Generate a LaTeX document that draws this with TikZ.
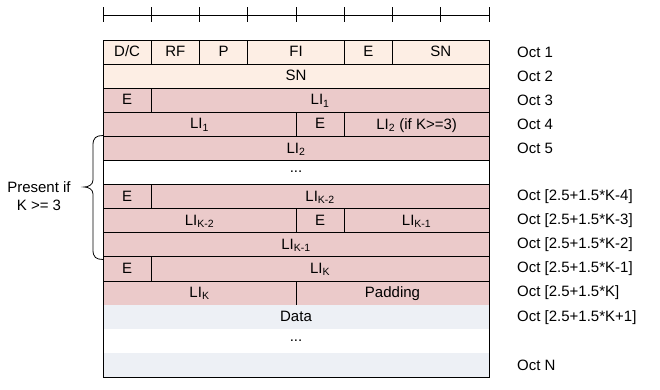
\documentclass[tikz,border=0pt]{standalone}
\usepackage{fontspec}
\setmainfont{Liberation Sans}
\definecolor{peach}{HTML}{FDEEE4}
\definecolor{rose}{HTML}{EBCACA}
\definecolor{pale}{HTML}{EDF0F5}
\newcommand\cellbox[6]{\node[cellbase,#5,minimum width={(#3-#2)*48.25pt},minimum height=24.1pt] (#1) at ({103+(#2+#3)*24.125},{40+(#4+0.5)*24.1}) {#6};}
\newcommand\octlabel[3]{\node[octlbl] (#1) at (517,{40+(#2+0.5)*24.1}) {#3};}
\begin{document}
\begin{tikzpicture}[x=1pt,y=-1pt,
  font=\fontsize{15}{18}\selectfont,
  cellbase/.style={inner sep=0pt,outer sep=0pt,line width=0.9pt,text depth=0.2ex},
  hdr/.style={draw=black,fill=peach},
  li/.style={draw=black,fill=rose},
  blank/.style={draw=black,fill=white},
  dat/.style={fill=pale},
  datw/.style={fill=white},
  octlbl/.style={anchor=west,inner sep=0pt},
  ruler/.style={line width=0.9pt}]
\useasboundingbox (0,0) rectangle (660,390);
% ruler
\coordinate (rl) at (103,15);
\coordinate (rr) at (489,15);
\draw[ruler] (rl) -- (rr);
\foreach \i in {0,...,8}{
  \draw[ruler] ({103+\i*48.25},7.5) -- ({103+\i*48.25},22);
}
% rows
\cellbox{dc}{0}{1}{0}{hdr}{D/C}
\cellbox{rf}{1}{2}{0}{hdr}{RF}
\cellbox{p}{2}{3}{0}{hdr}{P}
\cellbox{fi}{3}{5}{0}{hdr}{FI}
\cellbox{e1}{5}{6}{0}{hdr}{E}
\cellbox{sna}{6}{8}{0}{hdr}{SN}
\cellbox{snb}{0}{8}{1}{hdr}{SN}
\cellbox{e3}{0}{1}{2}{li}{E}
\cellbox{li1a}{1}{8}{2}{li}{LI\textsubscript{1}}
\cellbox{li1b}{0}{4}{3}{li}{LI\textsubscript{1}}
\cellbox{e4}{4}{5}{3}{li}{E}
\cellbox{li2a}{5}{8}{3}{li}{LI\textsubscript{2} (if K>=3)}
\cellbox{li2b}{0}{8}{4}{li}{LI\textsubscript{2}}
\cellbox{dots1}{0}{8}{5}{blank}{...}
\cellbox{e7}{0}{1}{6}{li}{E}
\cellbox{lik2a}{1}{8}{6}{li}{LI\textsubscript{K-2}}
\cellbox{lik2b}{0}{4}{7}{li}{LI\textsubscript{K-2}}
\cellbox{e8}{4}{5}{7}{li}{E}
\cellbox{lik1a}{5}{8}{7}{li}{LI\textsubscript{K-1}}
\cellbox{lik1b}{0}{8}{8}{li}{LI\textsubscript{K-1}}
\cellbox{e10}{0}{1}{9}{li}{E}
\cellbox{lika}{1}{8}{9}{li}{LI\textsubscript{K}}
\cellbox{likb}{0}{4}{10}{li}{LI\textsubscript{K}}
\cellbox{pad}{4}{8}{10}{li}{Padding}
\cellbox{d1}{0}{8}{11}{dat}{Data}
\cellbox{d2}{0}{8}{12}{datw}{...}
\cellbox{d3}{0}{8}{13}{dat}{}
\draw[line width=0.9pt] (d1.north west) -- (d3.south west) -- (d3.south east) -- (d1.north east);
% octet labels
\octlabel{o1}{0}{Oct 1}
\octlabel{o2}{1}{Oct 2}
\octlabel{o3}{2}{Oct 3}
\octlabel{o4}{3}{Oct 4}
\octlabel{o5}{4}{Oct 5}
\octlabel{o7}{6}{Oct [2.5+1.5*K-4]}
\octlabel{o8}{7}{Oct [2.5+1.5*K-3]}
\octlabel{o9}{8}{Oct [2.5+1.5*K-2]}
\octlabel{o10}{9}{Oct [2.5+1.5*K-1]}
\octlabel{o11}{10}{Oct [2.5+1.5*K]}
\octlabel{o12}{11}{Oct [2.5+1.5*K+1]}
\octlabel{o14}{13}{Oct N}
% brace
\draw[line width=0.8pt] (103,135.5) .. controls (96,135.5) and (93,138) .. (93,145)
  -- (93,180) .. controls (93,185) and (88,187) .. (84,187)
  .. controls (88,187) and (93,189) .. (93,194)
  -- (93,250) .. controls (93,257) and (96,259.5) .. (103,259.5);
\node[align=center,inner sep=0pt] (present) at (39,196) {Present if\\K >= 3};
\end{tikzpicture}
\end{document}
